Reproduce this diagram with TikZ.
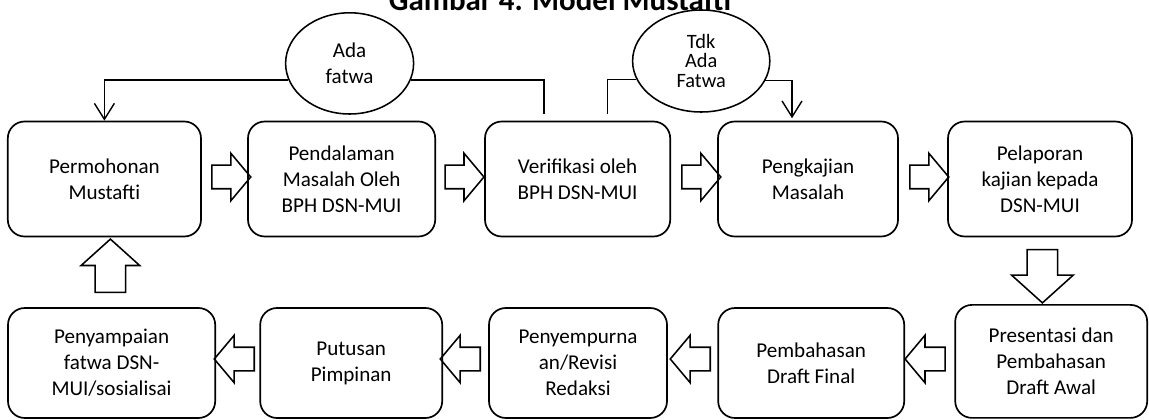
\documentclass[tikz,border=0pt]{standalone}
\usepackage{fontspec}
\setmainfont{Carlito}
\usetikzlibrary{shapes.geometric,shapes.arrows,arrows.meta}

\begin{document}
\begin{tikzpicture}[box/.style={draw,line width=1.2pt,rounded corners=0.42cm,align=center,minimum height=2.875cm,inner sep=2pt,font=\fontsize{15pt}{18.5pt}\selectfont},
	bubble/.style={ellipse,draw,fill=white,line width=1.1pt,align=center,inner sep=0pt,font=\fontsize{15pt}{18pt}\selectfont},
	fat/.style={single arrow,draw,line width=1.1pt,inner xsep=0pt,inner ysep=0.275cm,minimum height=0.97cm,single arrow head extend=0.3cm,single arrow tip angle=100},
	link/.style={line width=1pt},
	barb/.style={-{Straight Barb[length=0.4cm,width=0.5cm]}}]
	 \useasboundingbox (0,0) rectangle (28.725,10.475);
	 \node at (14.0,10.21) [anchor=base,font=\bfseries\fontsize{22pt}{26pt}\selectfont] (judul) {Gambar 4. Model Mustafti};

	 % baris atas
	 \node at (2.61,6.0) [box,minimum width=4.83cm] (permohonan) {Permohonan\\Mustafti};
	 \node at (8.54,6.0) [box,minimum width=4.68cm] (pendalaman) {Pendalaman\\Masalah Oleh\\BPH DSN-MUI};
	 \node at (14.44,6.0) [box,minimum width=4.63cm] (verifikasi) {Verifikasi oleh\\BPH DSN-MUI};
	 \node at (20.2,6.0) [box,minimum width=4.5cm] (pengkajian) {Pengkajian\\Masalah};
	 \node at (26.0,6.0) [box,minimum width=4.6cm] (pelaporan) {Pelaporan\\kajian kepada\\DSN-MUI};

	 % baris bawah
	 \node at (26.28,1.44) [box,minimum width=4.8cm,minimum height=2.825cm] (presentasi) {Presentasi dan\\Pembahasan\\Draft Awal};
	 \node at (20.28,1.4) [box,minimum width=4.65cm,minimum height=2.75cm] (draftfinal) {Pembahasan\\Draft Final};
	 \node at (14.45,1.4) [box,minimum width=4.45cm,minimum height=2.75cm] (revisi) {Penyempurna\\an/Revisi\\Redaksi};
	 \node at (8.78,1.4) [box,minimum width=4.55cm,minimum height=2.75cm] (putusan) {Putusan\\Pimpinan};
	 \node at (2.79,1.4) [box,minimum width=5.18cm,minimum height=2.75cm] (penyampaian) {Penyampaian\\fatwa DSN-\\MUI/sosialisai};

	 % panah blok
	 \node at (5.66,6.05) [fat] (p1) {};
	 \node at (11.49,6.05) [fat] (p2) {};
	 \node at (17.41,6.05) [fat] (p3) {};
	 \node at (23.11,6.05) [fat] (p4) {};
	 \node at (26.06,3.74) [fat,rotate=-90,inner ysep=0.3625cm,minimum height=1.33cm,single arrow head extend=0.39cm,single arrow tip angle=96] (p5) {};
	 \node at (23.25,1.5) [fat,rotate=180,minimum height=1.0cm] (p6) {};
	 \node at (17.38,1.5) [fat,rotate=180,minimum height=1.0cm] (p7) {};
	 \node at (11.63,1.5) [fat,rotate=180,minimum height=1.0cm] (p8) {};
	 \node at (5.98,1.5) [fat,rotate=180,minimum height=1.0cm] (p9) {};
	 \node at (2.76,3.66) [fat,rotate=90,inner ysep=0.3625cm,minimum height=1.33cm,single arrow head extend=0.35cm,single arrow tip angle=96] (p10) {};

	 % keputusan
	 \node at (8.74,8.89) [bubble,minimum width=3.2cm,minimum height=2.53cm] (ada) {Ada\\fatwa};
	 \node at (17.53,8.95) [bubble,minimum width=3.43cm,minimum height=2.55cm,font=\fontsize{14.5pt}{14pt}\selectfont] (tdk) {Tdk\\Ada\\Fatwa};

	 \draw[link] ([xshift=-0.84cm,yshift=0.16cm]verifikasi.north) |- (ada.345);
	 \draw[link,barb] (ada.195) -| (permohonan.north);
	 \draw[link] ([xshift=0.74cm,yshift=0.16cm]verifikasi.north) |- (tdk.196.5);
	 \draw[link,barb,shorten >=0.06cm] (tdk.343.5) -| ([xshift=-0.4cm]pengkajian.north);

\end{tikzpicture}
\end{document}
